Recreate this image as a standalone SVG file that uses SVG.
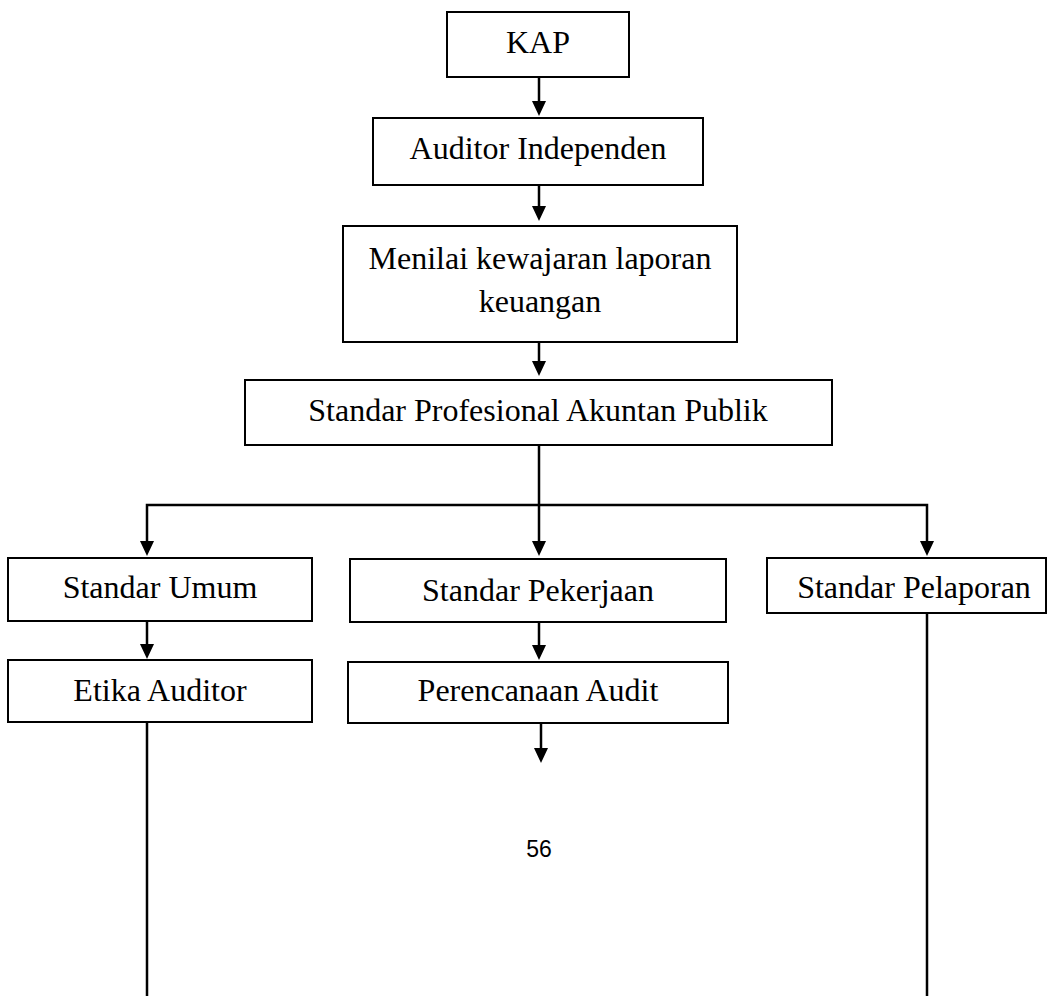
<svg xmlns="http://www.w3.org/2000/svg" width="1057" height="996" viewBox="0 0 1057 996">
<style>
.box{fill:#fff;stroke:#000;stroke-width:2}
.t{font-family:"Liberation Serif","Times New Roman",serif;font-size:32px;fill:#000;text-anchor:middle}
.c{fill:none;stroke:#000;stroke-width:2.5}
.a{marker-end:url(#ah)}
.pg{font-family:"Liberation Sans",Arial,sans-serif;font-size:23px;fill:#000;text-anchor:middle}
</style>
<defs>
<marker id="ah" viewBox="0 0 15 14" refX="7" refY="7" markerWidth="15" markerHeight="14" markerUnits="userSpaceOnUse" orient="auto">
<path d="M0,0 L15,7 L0,14 Z" fill="#000"/>
</marker>
</defs>
<rect width="1057" height="996" fill="#fff"/>
<g id="connectors">
<path class="c a" d="M539,77 V108"/>
<path class="c a" d="M539,185 V213"/>
<path class="c a" d="M539,342 V368"/>
<path class="c a" d="M539,445 V548"/>
<path class="c a" d="M539,505 H147 V548"/>
<path class="c a" d="M539,505 H927 V548"/>
<path class="c a" d="M147,621 V651"/>
<path class="c a" d="M539,622 V652"/>
<path class="c a" d="M541,723 V755"/>
<path class="c" d="M147,722 V996"/>
<path class="c" d="M927,613 V996"/>
</g>
<g id="kap"><rect class="box" x="447" y="12" width="182" height="65"/><text class="t" x="538" y="53">KAP</text></g>
<g id="auditor-independen"><rect class="box" x="373" y="118" width="330" height="67"/><text class="t" x="538" y="159">Auditor Independen</text></g>
<g id="menilai"><rect class="box" x="343" y="226" width="394" height="116"/><text class="t" x="540" y="269">Menilai kewajaran laporan</text><text class="t" x="540" y="312">keuangan</text></g>
<g id="spap"><rect class="box" x="245" y="380" width="587" height="65"/><text class="t" x="538" y="421">Standar Profesional Akuntan Publik</text></g>
<g id="standar-umum"><rect class="box" x="8" y="558" width="304" height="63"/><text class="t" x="160" y="598">Standar Umum</text></g>
<g id="standar-pekerjaan"><rect class="box" x="350" y="559" width="376" height="63"/><text class="t" x="538" y="601">Standar Pekerjaan</text></g>
<g id="standar-pelaporan"><rect class="box" x="767" y="558" width="279" height="55"/><text class="t" x="914" y="598">Standar Pelaporan</text></g>
<g id="etika-auditor"><rect class="box" x="8" y="660" width="304" height="62"/><text class="t" x="160" y="701">Etika Auditor</text></g>
<g id="perencanaan-audit"><rect class="box" x="348" y="662" width="380" height="61"/><text class="t" x="538" y="701">Perencanaan Audit</text></g>
<text class="pg" x="539" y="857">56</text>
</svg>
